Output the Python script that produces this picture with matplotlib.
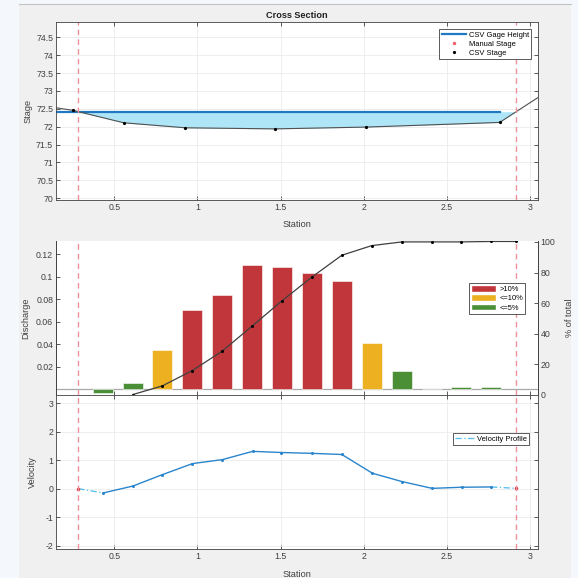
import matplotlib.pyplot as plt
from matplotlib.patches import Patch, Rectangle
from matplotlib.lines import Line2D

plt.rcParams['font.family'] = ['Liberation Sans', 'DejaVu Sans']
plt.rcParams['axes.unicode_minus'] = False

# cross section (top)
bed_station = [0.149, 0.249, 0.557, 0.928, 1.465, 2.016, 2.818, 3.05]
bed_stage = [72.53, 72.46, 72.11, 71.97, 71.94, 71.99, 72.12, 72.82]
gage_height = 72.42
gage_station = [0.149, 2.818]
edge_station = [0.283, 2.918]

# discharge per station (middle)
q_station = [0.433, 0.611, 0.788, 0.968, 1.147, 1.329, 1.508, 1.688, 1.869,
             2.049, 2.230, 2.410, 2.588, 2.767]
discharge = [-0.0039, 0.0056, 0.0344, 0.070, 0.084, 0.110, 0.109, 0.103, 0.096,
             0.0406, 0.0163, 0.0, 0.002, 0.002]
q_class = ['<=5%', '<=5%', '<=10%', '>10%', '>10%', '>10%', '>10%', '>10%', '>10%',
           '<=10%', '<=5%', '<=5%', '<=5%', '<=5%']
cum_station = [0.611, 0.788, 0.968, 1.147, 1.329, 1.508, 1.688, 1.869, 2.049,
               2.230, 2.410, 2.588, 2.767, 2.918]
cum_percent = [0.3, 5.9, 15.9, 28.5, 45.0, 61.5, 77.0, 91.3, 97.6,
               100.0, 100.0, 100.0, 100.3, 100.3]

# velocity profile (bottom)
v_station = [0.283, 0.433, 0.611, 0.788, 0.970, 1.150, 1.332, 1.505, 1.691,
             1.869, 2.053, 2.230, 2.412, 2.590, 2.767, 2.918]
velocity = [0.0, -0.15, 0.09, 0.49, 0.88, 1.02, 1.31, 1.27, 1.24,
            1.20, 0.54, 0.25, 0.01, 0.05, 0.06, 0.01]

class_colors = {'>10%': '#c1363a', '<=10%': '#ecb020', '<=5%': '#4a8f36'}
ink = '#404040'
edge_red = '#ee8f99'
W = 578.0


def axes_rect(x0, y0, x1, y1):
    return [x0 / W, 1 - y1 / W, (x1 - x0) / W, (y1 - y0) / W]


def style(ax, grid=True):
    ax.tick_params(direction='in', length=3, width=0.6, colors=ink,
                   labelsize=6.3, top=True, right=True, pad=2)
    for s in ax.spines.values():
        s.set_color(ink)
        s.set_linewidth(0.6)
    if grid:
        ax.grid(True, color='#ebebeb', lw=0.6)
    ax.set_axisbelow(True)


fig = plt.figure(figsize=(5.78, 5.78), dpi=100, facecolor='#f4f8fc')
fig.patches.append(Rectangle((19 / W, 0), (571 - 19) / W, 1 - 4 / W,
                             transform=fig.transFigure, facecolor='#f0f0f0',
                             edgecolor='none', zorder=-10))
fig.lines.append(Line2D([19 / W, 571 / W], [1 - 4 / W, 1 - 4 / W],
                        transform=fig.transFigure, color='#c4c4c4', lw=0.8))

xlim = (0.149, 3.049)
xticks = [0.5, 1, 1.5, 2, 2.5, 3]

# ---- cross section
ax1 = fig.add_axes(axes_rect(56, 22, 538, 200))
style(ax1)
ax1.fill_between(bed_station, bed_stage, gage_height,
                 where=[s < gage_height for s in bed_stage], interpolate=True,
                 color='#aee6f8', lw=0)
ax1.plot(gage_station, [gage_height, gage_height], color='#1f78c1', lw=1.6,
         label='CSV Gage Height')
ax1.plot([], [], ls='none', marker='.', ms=3, color='#f06070', label='Manual Stage')
ax1.plot(bed_station, bed_stage, color='#505050', lw=0.8)
ax1.plot(bed_station[1:-1], bed_stage[1:-1], ls='none', marker='o', ms=1.3,
         color='black', label='CSV Stage')
for s in edge_station:
    ax1.axvline(s, color=edge_red, ls=(0, (4, 3)), lw=1.0)
ax1.set_xlim(*xlim)
ax1.set_ylim(69.95, 74.93)
ax1.set_xticks(xticks)
ax1.set_xticklabels(['0.5', '1', '1.5', '2', '2.5', '3'])
ax1.set_yticks([70, 70.5, 71, 71.5, 72, 72.5, 73, 73.5, 74, 74.5])
ax1.set_yticklabels(['70', '70.5', '71', '71.5', '72', '72.5', '73', '73.5', '74', '74.5'])
ax1.set_title('Cross Section', fontsize=6.6, fontweight='bold', color='#202020', pad=3)
ax1.set_xlabel('Station', fontsize=6.6, color=ink)
ax1.set_ylabel('Stage', fontsize=6.6, color=ink)
ax1.xaxis.set_label_coords(0.5, -0.112)
ax1.yaxis.set_label_coords(-0.048, 0.5)
leg = ax1.legend(loc='upper right', bbox_to_anchor=(0.9855, 0.959), borderaxespad=0,
                 fontsize=5.4, fancybox=False, edgecolor=ink, framealpha=1,
                 handlelength=3.2, borderpad=0.3, labelspacing=0.25, handletextpad=0.4)
leg.get_frame().set_linewidth(0.6)

# ---- discharge
ax2 = fig.add_axes(axes_rect(56, 241, 538, 395))
style(ax2, grid=False)
ax2.tick_params(right=False, top=False)
ax2.spines['top'].set_visible(False)
ax2.axhline(0, color='#a8a8a8', lw=0.9, zorder=1)
ax2.bar(q_station, discharge, width=0.12, color=[class_colors[c] for c in q_class],
        edgecolor='white', linewidth=0.4, zorder=2)
for s in edge_station:
    ax2.axvline(s, color=edge_red, ls=(0, (4, 3)), lw=1.0, zorder=3)
ax2.set_xlim(*xlim)
ax2.set_ylim(-0.0053, 0.1318)
ax2.set_xticks(xticks)
ax2.set_xticklabels([])
ax2.set_yticks([0.02, 0.04, 0.06, 0.08, 0.1, 0.12])
ax2.set_yticklabels(['0.02', '0.04', '0.06', '0.08', '0.1', '0.12'])
ax2.set_ylabel('Discharge', fontsize=6.6, color=ink)
ax2.yaxis.set_label_coords(-0.054, 0.5)
handles = [Patch(facecolor=class_colors[k], edgecolor='white', label=k)
           for k in ['>10%', '<=10%', '<=5%']]
leg = ax2.legend(handles=handles, loc='upper right', bbox_to_anchor=(0.973, 0.727),
                 borderaxespad=0, fontsize=5.4, fancybox=False, edgecolor=ink,
                 framealpha=1, handlelength=3.4, handleheight=1.0, borderpad=0.25,
                 labelspacing=0.2, handletextpad=0.4)
leg.get_frame().set_linewidth(0.6)

ax2r = ax2.twinx()
ax2r.plot(cum_station, cum_percent, color='#404040', lw=0.9, marker='o', ms=1.2,
          mfc='black', mec='black', zorder=4)
ax2r.set_ylim(0, 100.6)
ax2r.set_yticks([0, 20, 40, 60, 80, 100])
ax2r.tick_params(direction='in', length=3, width=0.6, colors=ink, labelsize=6.3, pad=2)
for s in ax2r.spines.values():
    s.set_color(ink)
    s.set_linewidth(0.6)
ax2r.spines['top'].set_visible(False)
ax2r.set_ylabel('% of total', fontsize=6.6, color=ink)
ax2r.yaxis.set_label_coords(1.056, 0.5)

# ---- velocity
ax3 = fig.add_axes(axes_rect(56, 395, 538, 549))
style(ax3)
ax3.plot(v_station[:2], velocity[:2], color='#4dbeee', lw=0.9, ls=(0, (5, 2, 1, 2)),
         label='Velocity Profile')
ax3.plot(v_station[-2:], velocity[-2:], color='#4dbeee', lw=0.9, ls=(0, (5, 2, 1, 2)))
ax3.plot(v_station[1:-1], velocity[1:-1], color='#2a85cc', lw=1.0, marker='o', ms=1.2)
ax3.plot([v_station[0], v_station[-1]], [velocity[0], velocity[-1]], ls='none',
         marker='o', ms=1.5, color='#e03040')
for s in edge_station:
    ax3.axvline(s, color=edge_red, ls=(0, (4, 3)), lw=1.0)
ax3.set_xlim(*xlim)
ax3.set_ylim(-2.12, 3.29)
ax3.set_xticks(xticks)
ax3.set_xticklabels(['0.5', '1', '1.5', '2', '2.5', '3'])
ax3.set_yticks([-2, -1, 0, 1, 2, 3])
ax3.set_yticklabels(['-2', '-1', '0', '1', '2', '3'])
ax3.set_xlabel('Station', fontsize=6.6, color=ink)
ax3.set_ylabel('Velocity', fontsize=6.6, color=ink)
ax3.xaxis.set_label_coords(0.5, -0.136)
ax3.yaxis.set_label_coords(-0.039, 0.5)
leg = ax3.legend(loc='upper right', bbox_to_anchor=(0.981, 0.753), borderaxespad=0,
                 fontsize=5.4, fancybox=False, edgecolor=ink, framealpha=1,
                 handlelength=2.6, borderpad=0.3, handletextpad=0.3)
leg.get_frame().set_linewidth(0.6)

fig.savefig('out.png', dpi=100, facecolor=fig.get_facecolor())
